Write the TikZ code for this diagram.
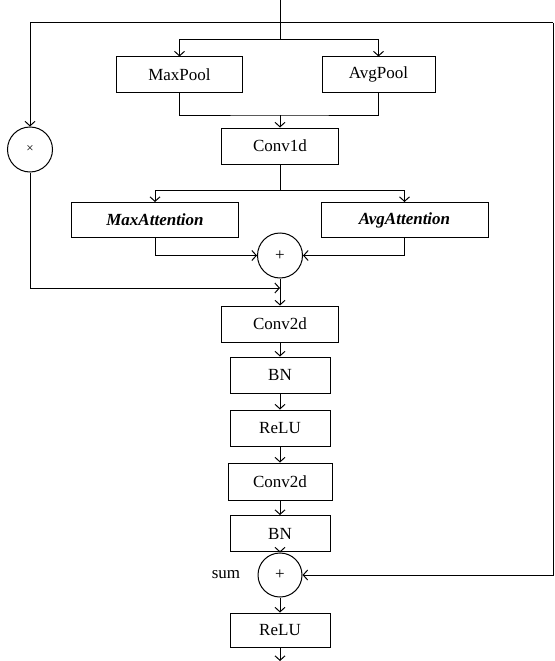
\documentclass[tikz,border=0pt]{standalone}
\usepackage{fontspec}
\setmainfont{Liberation Serif}
\usetikzlibrary{arrows.meta}
\begin{document}
\begin{tikzpicture}[x=1pt,y=-1pt,line width=1pt,
  box/.style={draw,inner sep=0pt,minimum height=35pt,font=\fontsize{17}{20}\selectfont},
  circ/.style={draw,circle,minimum size=45pt,inner sep=0pt,font=\fontsize{17}{20}\selectfont},
  lbl/.style={inner sep=0pt,font=\fontsize{17}{20}\selectfont},
  arr/.style={-{Straight Barb[length=4.5pt,width=10pt]}}]
\useasboundingbox (0,0) rectangle (554,661);
% coordinates
\coordinate (top) at (280,0);
\coordinate (tl) at (30,23);
\coordinate (tr) at (553,23);
\coordinate (j1) at (280,40);
\coordinate (j2) at (280,115);
\coordinate (j3) at (280,190);
\coordinate (jl) at (280,288);
\coordinate (out) at (280,661);
% nodes
\node[box,minimum width=126pt] (maxpool) at (179.5,74.5) {MaxPool};
\node[box,minimum width=113pt] (avgpool) at (378.5,74.5) {AvgPool};
\node[box,minimum width=117pt,minimum height=36pt] (conv1d) at (280,146) {Conv1d};
\node[box,minimum width=167pt] (maxatt) at (155,220) {\bfseries\itshape MaxAttention};
\node[box,minimum width=167pt] (avgatt) at (404.5,220) {\bfseries\itshape AvgAttention};
\node[circ] (plus) at (280,255.5) {+};
\node[circ,font=\fontsize{13}{14}\selectfont] (times) at (30,149.5) {×};
\node[box,minimum width=117pt,minimum height=36pt] (conv2a) at (280,324) {Conv2d};
\node[box,minimum width=100pt,minimum height=36pt] (bn1) at (280,375) {BN};
\node[box,minimum width=100pt,minimum height=36pt] (relu1) at (280,428) {ReLU};
\node[box,minimum width=104pt,minimum height=37pt] (conv2b) at (280,481.5) {Conv2d};
\node[box,minimum width=100pt,minimum height=36pt] (bn2) at (280,533.5) {BN};
\node[circ,minimum size=44pt] (sum) at (280,575) {+};
\node[lbl] (sumlabel) at (226,575) {sum};
\node[box,minimum width=100pt,minimum height=34pt] (relu2) at (280,630) {ReLU};
% connectors
\draw (top) -- (j1);
\draw (tl) -- (tr);
\draw[arr] (j1) -| (maxpool.north);
\draw[arr] (j1) -| (avgpool.north);
\draw (maxpool.south) |- (j2) -| (avgpool.south);
\draw[arr] (j2) -- (conv1d.north);
\draw (conv1d.south) -- (j3);
\draw[arr] (j3) -| (maxatt.north);
\draw[arr] (j3) -| (avgatt.north);
\draw[arr] (maxatt.south) |- (plus.west);
\draw[arr] (avgatt.south) |- (plus.east);
\draw[arr] (tl) -- (times.north);
\draw[arr] (times.south) |- (jl);
\draw[arr] (plus.south) -- (conv2a.north);
\draw[arr] (conv2a) -- (bn1);
\draw[arr] (bn1) -- (relu1);
\draw[arr] (relu1) -- (conv2b);
\draw[arr] (conv2b) -- (bn2);
\draw[arr] (bn2) -- (sum);
\draw[arr] (tr) |- (sum.east);
\draw[arr] (sum) -- (relu2);
\draw[arr] (relu2.south) -- (out);
\end{tikzpicture}
\end{document}
